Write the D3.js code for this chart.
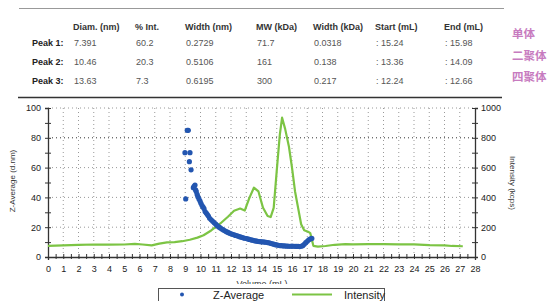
<!DOCTYPE html>
<html>
<head>
<meta charset="utf-8">
<script src="https://cdn.jsdelivr.net/npm/d3@7"></script>
<style>
  body { margin: 0; background: #fff; }
  svg { display: block; font-family: "Liberation Sans", Arial, sans-serif; }
</style>
</head>
<body>
<svg id="chart" width="555" height="301"></svg>
<script>
// table data
var headers = ["Diam. (nm)", "% Int.", "Width (nm)", "MW (kDa)", "Width (kDa)", "Start (mL)", "End (mL)"];
var peakLabels = ["Peak 1:", "Peak 2:", "Peak 3:"];
var diam = ["7.391", "10.46", "13.63"];
var pctInt = ["60.2", "20.3", "7.3"];
var widthNm = ["0.2729", "0.5106", "0.6195"];
var mw = ["71.7", "161", "300"];
var widthKda = ["0.0318", "0.138", "0.217"];
var startMl = [": 15.24", ": 13.36", ": 12.24"];
var endMl = [": 15.98", ": 14.09", ": 12.66"];
var oligomers = ["单体", "二聚体", "四聚体"];

// series: [volume mL, value]
var intensity = [
  [0, 75], [1, 78], [2, 82], [3, 84], [4, 83], [5, 84], [5.7, 88], [6.2, 84], [6.8, 78],
  [7.3, 90], [7.8, 98], [8.3, 100], [8.8, 106], [9.3, 116], [9.8, 130], [10.2, 146],
  [10.7, 178], [11.3, 225], [11.8, 270], [12.2, 310], [12.6, 325], [12.9, 312],
  [13.2, 395], [13.5, 465], [13.8, 440], [14.1, 330], [14.4, 275], [14.6, 268],
  [14.8, 330], [15.0, 580], [15.2, 820], [15.35, 935], [15.55, 860], [15.8, 740],
  [16.0, 600], [16.2, 440], [16.4, 330], [16.6, 220], [16.8, 180], [17.05, 170],
  [17.2, 160], [17.4, 75], [17.7, 70], [18.2, 74], [18.8, 82], [19.5, 86], [20, 85],
  [21, 87], [22, 86], [23, 85], [24, 85], [25, 80], [26, 78], [26.5, 74], [27.2, 72]
];
var zAverage = [
  [8.98, 70], [9.03, 39], [9.13, 85], [9.2, 85], [9.27, 64], [9.31, 70], [9.38, 58.5],
  [9.53, 46.5], [9.58, 47.5], [9.64, 48.3], [9.68, 45], [9.72, 44], [9.78, 42],
  [9.83, 40.5], [9.9, 39], [9.97, 37.6], [10.03, 36], [10.1, 34.5], [10.17, 33.5],
  [10.23, 32.5], [10.3, 30.5], [10.38, 29.5], [10.45, 28.5], [10.52, 27.5], [10.6, 26],
  [10.7, 25], [10.8, 24], [10.9, 23], [11.0, 22], [11.1, 21], [11.2, 20.2], [11.3, 19.5],
  [11.4, 18.8], [11.5, 18.2], [11.6, 17.6], [11.7, 17], [11.8, 16.5], [11.9, 16],
  [12.0, 15.6], [12.1, 15.2], [12.2, 14.9], [12.3, 14.5], [12.4, 14.2], [12.5, 13.9],
  [12.6, 13.5], [12.7, 13.2], [12.8, 12.9], [12.9, 12.6], [13.0, 12.4], [13.1, 12.1],
  [13.2, 11.8], [13.3, 11.5], [13.4, 11.3], [13.5, 11], [13.6, 10.8], [13.7, 10.6],
  [13.8, 10.4], [13.9, 10.3], [14.0, 10.2], [14.1, 10.1], [14.2, 10], [14.3, 9.9],
  [14.4, 9.7], [14.5, 9.5], [14.6, 9.2], [14.7, 8.9], [14.8, 8.6], [14.9, 8.3],
  [15.0, 8.1], [15.1, 7.9], [15.2, 7.7], [15.3, 7.6], [15.4, 7.5], [15.5, 7.4],
  [15.6, 7.3], [15.7, 7.3], [15.8, 7.2], [15.9, 7.2], [16.0, 7.3], [16.1, 7.2],
  [16.2, 7.2], [16.3, 7.1], [16.4, 7.2], [16.5, 7.0], [16.6, 7.2], [16.7, 7.6],
  [16.8, 8.5], [16.9, 9.6], [17.0, 10.5], [17.1, 11.5], [17.2, 12.1], [17.3, 12.5]
];

var svg = d3.select("#chart");

// ---- table ----
svg.append("line").attr("x1", 19).attr("x2", 504).attr("y1", 8.5).attr("y2", 8.5)
  .attr("stroke", "#999").attr("stroke-width", 1);

var colX = [73, 135, 185, 256, 313, 375, 444];
var rowY = [46, 65, 84];
var cols = [diam, pctInt, widthNm, mw, widthKda, startMl, endMl];

svg.selectAll(".hdr").data(headers).enter().append("text")
    .attr("class", "hdr")
    .attr("x", function(d, i) { return colX[i]; })
    .attr("y", 30)
    .style("font-size", "9px")
    .style("font-weight", "bold")
    .attr("fill", "#333")
    .text(function(d) { return d; });

svg.selectAll(".plab").data(peakLabels).enter().append("text")
    .attr("class", "plab")
    .attr("x", 32)
    .attr("y", function(d, i) { return rowY[i]; })
    .style("font-size", "9px")
    .style("font-weight", "bold")
    .attr("fill", "#222")
    .text(function(d) { return d; });

cols.forEach(function(col, c) {
  svg.selectAll(".cell" + c).data(col).enter().append("text")
      .attr("x", colX[c] + 1)
      .attr("y", function(d, i) { return rowY[i]; })
      .style("font-size", "9px")
      .attr("fill", "#555")
      .text(function(d) { return d; });
});

var oligY = [38, 59.5, 81];
svg.selectAll(".olig").data(oligomers).enter().append("text")
    .attr("x", 512)
    .attr("y", function(d, i) { return oligY[i]; })
    .style("font-family", "'Noto Sans CJK SC', sans-serif")
    .style("font-size", "11.5px")
    .style("font-weight", "bold")
    .attr("fill", "#c77bbf")
    .text(function(d) { return d; });

svg.append("line").attr("x1", 18).attr("x2", 502).attr("y1", 97.5).attr("y2", 97.5)
  .attr("stroke", "#333").attr("stroke-width", 1.5);

// ---- chart ----
var x = d3.scaleLinear().domain([0, 28]).range([48, 475]);
var yL = d3.scaleLinear().domain([0, 100]).range([257, 108]);
var yR = d3.scaleLinear().domain([0, 1000]).range([257, 108]);

var grid = svg.append("g");
grid.selectAll(".vg").data(d3.range(1, 28)).enter().append("line")
    .attr("x1", function(d) { return x(d); }).attr("x2", function(d) { return x(d); })
    .attr("y1", yL(100)).attr("y2", yL(0))
    .attr("stroke", "#999").attr("stroke-dasharray", "1,3");
grid.selectAll(".hg").data([20, 40, 60, 80, 100]).enter().append("line")
    .attr("x1", x(0)).attr("x2", x(28))
    .attr("y1", function(d) { return yL(d); }).attr("y2", function(d) { return yL(d); })
    .attr("stroke", function(d) { return d === 80 ? "#333" : "#999"; })
    .attr("stroke-dasharray", "1,3");

var axisStyle = function(g) {
  g.select(".domain").attr("stroke", "#333").attr("stroke-width", 1.3);
  g.selectAll(".tick line").attr("stroke", "#333");
  g.selectAll(".tick text").style("font-size", "9px").attr("fill", "#222")
    .style("font-family", "'Liberation Sans', Arial, sans-serif");
};

// x axis: minor ticks every 0.5, labels at integers
svg.append("g")
    .attr("transform", "translate(0," + yL(0) + ")")
    .call(d3.axisBottom(x).tickValues(d3.range(0, 28.5, 0.5)).tickSize(3)
      .tickFormat(function(d) { return d % 1 === 0 ? d : ""; }).tickPadding(6))
    .call(axisStyle)
    .call(function(g) { g.selectAll(".tick line").attr("y1", -3).attr("y2", 2); });

svg.append("g")
    .attr("transform", "translate(" + x(0) + ",0)")
    .call(d3.axisLeft(yL).tickValues(d3.range(0, 101, 10)).tickSize(3)
      .tickFormat(function(d) { return d % 20 === 0 ? d : ""; }).tickPadding(4))
    .call(axisStyle)
    .call(function(g) { g.selectAll(".tick line").attr("x1", -3).attr("x2", 3); });

svg.append("g")
    .attr("transform", "translate(" + x(28) + ",0)")
    .call(d3.axisRight(yR).tickValues(d3.range(0, 1001, 100)).tickSize(3)
      .tickFormat(function(d) { return d % 200 === 0 ? d : ""; }).tickPadding(3))
    .call(axisStyle)
    .call(function(g) { g.selectAll(".tick line").attr("x1", -3).attr("x2", 3); });

svg.append("text")
    .attr("transform", "translate(15," + 181 + ") rotate(-90)")
    .attr("text-anchor", "middle")
    .style("font-size", "8px").attr("fill", "#333")
    .text("Z-Average (d.nm)");

svg.append("text")
    .attr("transform", "translate(510," + 183 + ") rotate(90)")
    .attr("text-anchor", "middle")
    .style("font-size", "8px").attr("fill", "#333")
    .text("Intensity (kcps)");

// series
var line = d3.line()
    .x(function(d) { return x(d[0]); })
    .y(function(d) { return yR(d[1]); });

svg.append("path")
    .datum(intensity)
    .attr("d", line)
    .attr("fill", "none")
    .attr("stroke", "#7cc444")
    .attr("stroke-width", 2.2)
    .attr("stroke-linejoin", "round");

svg.selectAll(".zdot").data(zAverage).enter().append("circle")
    .attr("cx", function(d) { return x(d[0]); })
    .attr("cy", function(d) { return yL(d[1]); })
    .attr("r", 2.6)
    .attr("fill", "#2356b0");

// x title, partly hidden behind legend
svg.append("text")
    .attr("x", 262).attr("y", 286.5)
    .attr("text-anchor", "middle")
    .style("font-size", "9px").attr("fill", "#333")
    .text("Volume (mL)");

// legend
var lg = svg.append("g");
lg.append("rect").attr("x", 150).attr("y", 284).attr("width", 245).attr("height", 30).attr("fill", "#fff");
lg.append("rect").attr("x", 158.5).attr("y", 288.5).attr("width", 226).attr("height", 20)
    .attr("fill", "#fff").attr("stroke", "#555");
lg.append("circle").attr("cx", 182).attr("cy", 294.5).attr("r", 2).attr("fill", "#2356b0");
lg.append("text").attr("x", 213).attr("y", 298.5).style("font-size", "11px").attr("fill", "#222").text("Z-Average");
lg.append("line").attr("x1", 292).attr("x2", 332).attr("y1", 294.5).attr("y2", 294.5)
    .attr("stroke", "#7cc444").attr("stroke-width", 2);
lg.append("text").attr("x", 344).attr("y", 298.5).style("font-size", "11px").attr("fill", "#222").text("Intensity");
</script>
</body>
</html>
